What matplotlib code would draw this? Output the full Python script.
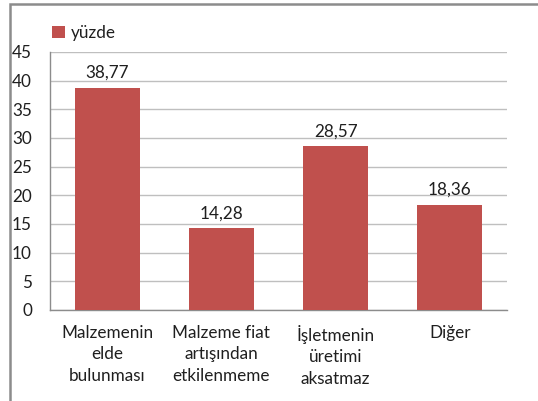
import matplotlib.pyplot as plt
from matplotlib.patches import Rectangle

categories = ["Malzemenin\nelde\nbulunması", "Malzeme fiat\nartışından\netkilenmeme",
              "İşletmenin\nüretimi\naksatmaz", "Diğer"]
values = [38.77, 14.28, 28.57, 18.36]
labels = ["38,77", "14,28", "28,57", "18,36"]
series_name = "yüzde"

plt.rcParams['font.family'] = ['Lato', 'DejaVu Sans']
W, H = 538, 401
fig = plt.figure(figsize=(W / 100, H / 100), dpi=100)
ax = fig.add_axes([50 / W, 1 - 310 / H, 457 / W, 258 / H])

bar_color = '#C0504D'
txt = '#1F1F1F'
fs = 12.3
x = range(len(values))
ax.bar(x, values, width=0.57, color=bar_color, zorder=3, label=series_name)
for i, v in enumerate(values):
    ax.annotate(labels[i], (i, v), xytext=(0, 5), textcoords='offset points',
                ha='center', va='bottom', fontsize=fs, color=txt)

ax.set_xlim(-0.5, len(values) - 0.5)
ax.set_ylim(0, 45)
ax.set_yticks(range(0, 46, 5))
ax.set_xticks(list(x))
ax.set_xticklabels(categories, fontsize=fs, color=txt, linespacing=1.4)
ax.tick_params(axis='y', length=0, pad=13, labelsize=fs, labelcolor=txt)
ax.tick_params(axis='x', length=0, pad=11)
ax.grid(axis='y', color='#BFBFBF', linewidth=1, zorder=0)
for s in ['top', 'right']:
    ax.spines[s].set_visible(False)
for s in ['left', 'bottom']:
    ax.spines[s].set_color('#8C8C8C')
    ax.spines[s].set_linewidth(1)

ax.legend(loc='lower left', bbox_to_anchor=(-0.025, 0.99), frameon=False, fontsize=fs,
          handlelength=0.75, handleheight=0.75, handletextpad=0.35, borderpad=0.3,
          labelcolor=txt)

fig.patches.append(Rectangle((10 / W, -0.05), 1.1, 1 - 4 / H + 0.05, transform=fig.transFigure,
                             fill=False, edgecolor='#8C8C8C', linewidth=1.8))

fig.savefig('out.png', dpi=100)
